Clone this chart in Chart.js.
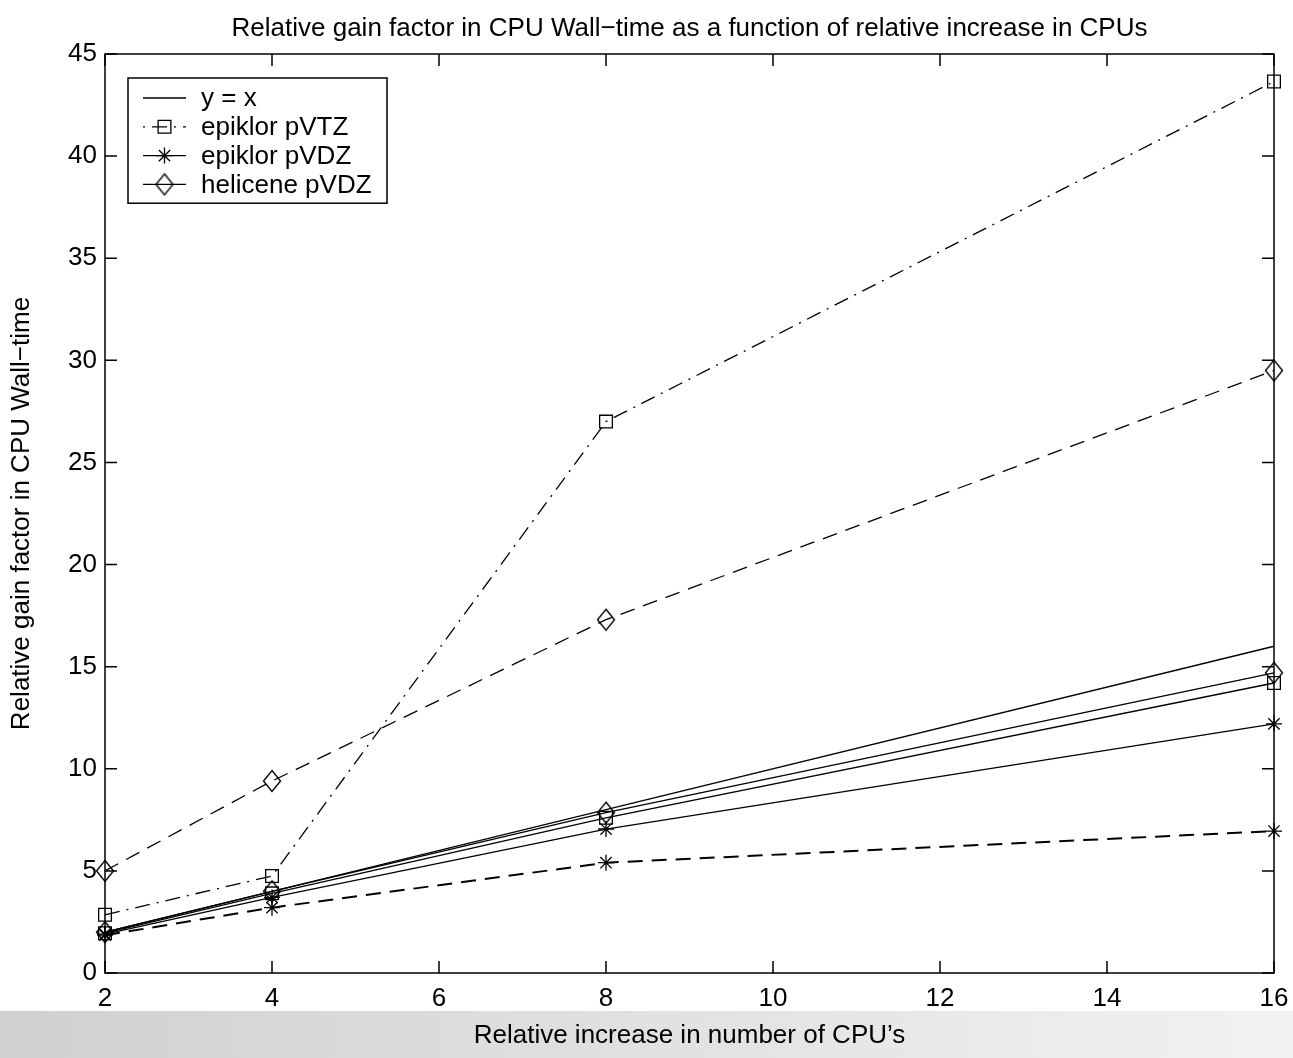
<!DOCTYPE html>
<html>
<head>
<meta charset="utf-8">
<title>Relative gain factor in CPU Wall-time</title>
<script src="https://cdn.jsdelivr.net/npm/chart.js@4.4.1/dist/chart.umd.min.js"></script>
<style>
    html, body { margin: 0; padding: 0; background: #fff; overflow: hidden; }
    #wrap { position: relative; width: 1293px; height: 1058px; }
    #band { position: absolute; left: 0; top: 1011px; width: 1293px; height: 47px;
            background: linear-gradient(to right, #d0d0d0, #f2f2f2); }
    #myChart { position: absolute; left: 0; top: 0; }
</style>
</head>
<body>
<div id="wrap">
    <div id="band"></div>
    <canvas id="myChart"></canvas>
</div>
<script>
// relative increase in CPUs
const cpus = [2, 4, 8, 16];
// y = x reference
const ideal = [2, 4, 8, 16];
// epiklor pVTZ (dash-dot and solid runs)
const pvtzDashDot = [2.85, 4.75, 27.0, 43.65];
const pvtzSolid = [1.95, 3.9, 7.6, 14.2];
// epiklor pVDZ
const pvdzSolid = [1.9, 3.7, 7.05, 12.2];
const pvdzDashed = [1.85, 3.2, 5.4, 6.95];
// helicene pVDZ
const heliSolid = [2.0, 4.0, 7.85, 14.7];
const heliDashed = [5.0, 9.4, 17.3, 29.5];

const xTicks = [2, 4, 6, 8, 10, 12, 14, 16];
const yTicks = [0, 5, 10, 15, 20, 25, 30, 35, 40, 45];

const FONT = '"Liberation Sans", Arial, Helvetica, sans-serif';
const FSIZE = 26;

const toPoints = (vals) => cpus.map((c, i) => ({ x: c, y: vals[i] }));

// narrow MATLAB-style diamond marker
const diamond = (() => {
    const c = document.createElement('canvas');
    c.width = 20; c.height = 24;
    const g = c.getContext('2d');
    g.strokeStyle = '#000';
    g.lineWidth = 1.4;
    g.beginPath();
    g.moveTo(10, 1.5); g.lineTo(18.5, 12); g.lineTo(10, 22.5); g.lineTo(1.5, 12);
    g.closePath();
    g.stroke();
    return c;
})();

const makeSet = (label, vals, style, radius, dash, width, inLegend) => ({
    label: label,
    data: toPoints(vals),
    borderColor: '#000',
    backgroundColor: 'rgba(0,0,0,0)',
    borderWidth: width,
    borderDash: dash,
    pointStyle: style,
    pointRadius: radius,
    pointHoverRadius: radius,
    pointBorderColor: '#000',
    pointBackgroundColor: 'rgba(0,0,0,0)',
    pointBorderWidth: 1.3,
    tension: 0,
    clip: false,
    inLegend: inLegend
});

// frame with inward ticks on all four sides, plus the title
const framePlugin = {
    id: 'frame',
    afterDraw(chart) {
        const ctx = chart.ctx, a = chart.chartArea;
        const xs = chart.scales.x, ys = chart.scales.y;
        const tl = 12;
        ctx.save();
        ctx.strokeStyle = '#000';
        ctx.lineWidth = 1.5;
        ctx.setLineDash([]);
        ctx.strokeRect(a.left, a.top, a.right - a.left, a.bottom - a.top);
        ctx.beginPath();
        xs.ticks.forEach(t => {
            const px = xs.getPixelForValue(t.value);
            ctx.moveTo(px, a.bottom); ctx.lineTo(px, a.bottom - tl);
            ctx.moveTo(px, a.top); ctx.lineTo(px, a.top + tl);
        });
        ys.ticks.forEach(t => {
            const py = ys.getPixelForValue(t.value);
            ctx.moveTo(a.left, py); ctx.lineTo(a.left + tl, py);
            ctx.moveTo(a.right, py); ctx.lineTo(a.right - tl, py);
        });
        ctx.stroke();

        ctx.fillStyle = '#000';
        ctx.font = FSIZE + 'px ' + FONT;
        ctx.textAlign = 'center';
        ctx.textBaseline = 'middle';
        ctx.fillText('Relative gain factor in CPU Wall\u2212time as a function of relative increase in CPUs',
            (a.left + a.right) / 2, 29);
        ctx.restore();
    }
};

// MATLAB-like boxed legend: line sample with marker in the middle
const legendPlugin = {
    id: 'boxLegend',
    afterDraw(chart) {
        const ctx = chart.ctx, a = chart.chartArea;
        const items = chart.data.datasets.filter(d => d.inLegend);
        const x0 = a.left + 23, y0 = a.top + 24, w = 259, rowH = 28.8;
        const h = items.length * rowH + 10;
        ctx.save();
        ctx.fillStyle = '#fff';
        ctx.fillRect(x0, y0, w, h);
        ctx.strokeStyle = '#000';
        ctx.lineWidth = 1.5;
        ctx.strokeRect(x0, y0, w, h);
        ctx.font = FSIZE + 'px ' + FONT;
        ctx.textBaseline = 'middle';
        ctx.textAlign = 'left';
        items.forEach((d, i) => {
            const cy = y0 + 20 + i * rowH;
            ctx.strokeStyle = '#000';
            ctx.lineWidth = d.borderWidth;
            ctx.setLineDash(d.borderDash);
            ctx.lineDashOffset = d.borderDash.length ? 22 : 0;
            ctx.beginPath();
            ctx.moveTo(x0 + 15, cy);
            ctx.lineTo(x0 + 58, cy);
            ctx.stroke();
            ctx.setLineDash([]);
            ctx.lineDashOffset = 0;
            if (d.pointRadius > 0) {
                ctx.fillStyle = 'rgba(0,0,0,0)';
                ctx.lineWidth = 1.3;
                Chart.helpers.drawPoint(ctx, {
                    pointStyle: d.pointStyle, rotation: 0,
                    radius: d.pointRadius, borderWidth: 1.3
                }, x0 + 36.5, cy);
            }
            ctx.fillStyle = '#000';
            ctx.fillText(d.label, x0 + 73, cy + 1);
        });
        ctx.restore();
    }
};

new Chart('myChart', {
    type: 'line',
    data: {
        datasets: [
            makeSet('y = x', ideal, 'circle', 0, [], 1.3, true),
            makeSet('epiklor pVTZ', pvtzDashDot, 'rect', 9, [15, 7, 2, 7], 1.3, true),
            makeSet('epiklor pVDZ', pvdzSolid, 'star', 8, [], 1.3, true),
            makeSet('helicene pVDZ', heliSolid, diamond, 10, [], 1.3, true),
            makeSet('epiklor pVTZ', pvtzSolid, 'rect', 9, [], 1.3, false),
            makeSet('epiklor pVDZ', pvdzDashed, 'star', 8, [15, 9], 2, false),
            makeSet('helicene pVDZ', heliDashed, diamond, 10, [15, 9], 1.3, false)
        ]
    },
    options: {
        responsive: true,
        maintainAspectRatio: false,
        animation: false,
        layout: { padding: { top: 54, right: 19, left: 0, bottom: 0 } },
        plugins: {
            legend: { display: false },
            tooltip: { enabled: false },
            title: { display: false }
        },
        scales: {
            x: {
                type: 'linear',
                min: 2,
                max: 16,
                afterFit(scale) {
                    scale.height = 85;
                    scale.paddingLeft = 0;
                    scale.paddingRight = 0;
                },
                afterBuildTicks(scale) { scale.ticks = xTicks.map(v => ({ value: v })); },
                grid: { display: false, drawTicks: false },
                border: { display: false },
                ticks: { color: '#000', padding: 10, maxRotation: 0, font: { family: FONT, size: FSIZE } },
                title: {
                    display: true,
                    text: 'Relative increase in number of CPU\u2019s',
                    color: '#000',
                    padding: { top: 0, bottom: 7 },
                    font: { family: FONT, size: FSIZE }
                }
            },
            y: {
                type: 'linear',
                min: 0,
                max: 45,
                afterFit(scale) {
                    scale.width = 105;
                    scale.paddingTop = 0;
                    scale.paddingBottom = 0;
                },
                afterBuildTicks(scale) { scale.ticks = yTicks.map(v => ({ value: v })); },
                grid: { display: false, drawTicks: false },
                border: { display: false },
                ticks: { color: '#000', padding: 8, font: { family: FONT, size: FSIZE } },
                title: {
                    display: true,
                    text: 'Relative gain factor in CPU Wall\u2212time',
                    color: '#000',
                    padding: { top: 6, bottom: 0 },
                    font: { family: FONT, size: FSIZE }
                }
            }
        }
    },
    plugins: [framePlugin, legendPlugin]
});
</script>
</body>
</html>
